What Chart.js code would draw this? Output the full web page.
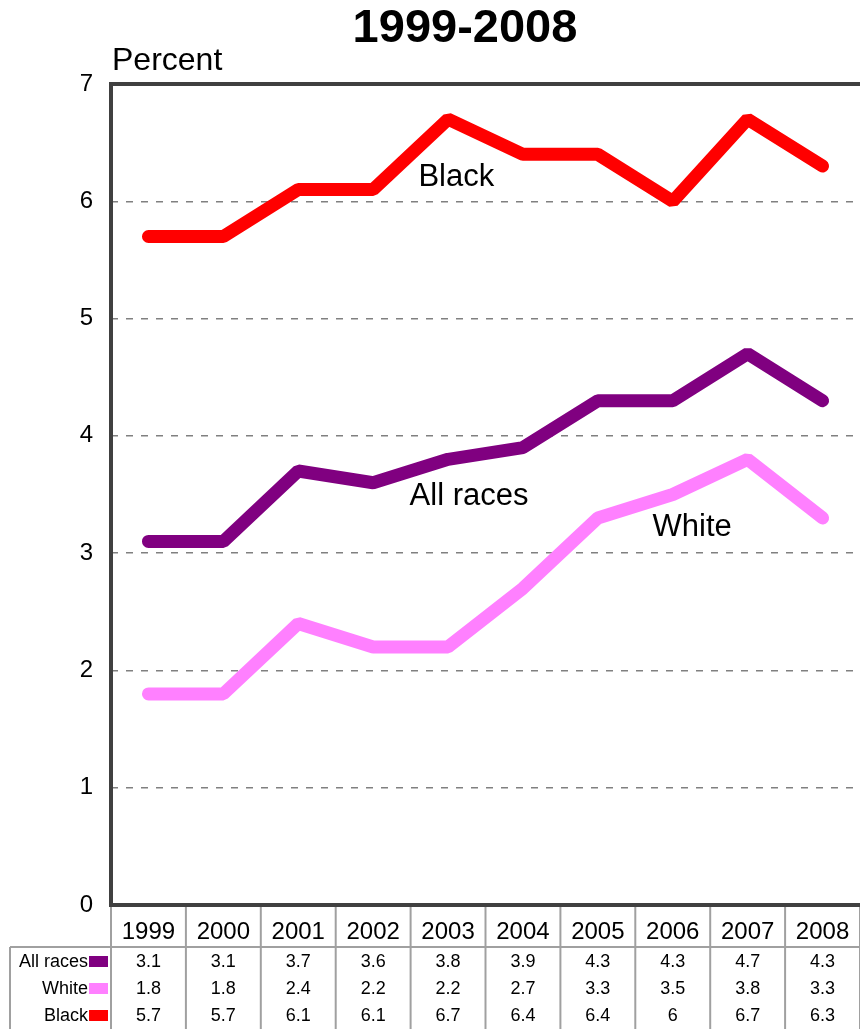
<!DOCTYPE html>
<html>
<head>
<meta charset="utf-8">
<script src="https://cdn.jsdelivr.net/npm/chart.js@4"></script>
<style>
  body { margin: 0; background: #fff; }
  canvas { display: block; }
</style>
</head>
<body>
<canvas id="myChart" width="860" height="1029"></canvas>
<script>
// Data
const years = ['1999', '2000', '2001', '2002', '2003', '2004', '2005', '2006', '2007', '2008'];
const allRaces = [3.1, 3.1, 3.7, 3.6, 3.8, 3.9, 4.3, 4.3, 4.7, 4.3];
const white = [1.8, 1.8, 2.4, 2.2, 2.2, 2.7, 3.3, 3.5, 3.8, 3.3];
const black = [5.7, 5.7, 6.1, 6.1, 6.7, 6.4, 6.4, 6.0, 6.7, 6.3];
const yTicks = [0, 1, 2, 3, 4, 5, 6, 7];

const FONT = 'Liberation Sans, Arial, sans-serif';

// series in table order
const series = [
    { name: 'All races', values: allRaces, color: '#800080' },
    { name: 'White', values: white, color: '#FF80FF' },
    { name: 'Black', values: black, color: '#FF0000' }
];

// labels placed on the chart (category index, value)
const lineLabels = [
    { text: 'Black', x: 4.11, y: 6.2 },
    { text: 'All races', x: 4.28, y: 3.48 },
    { text: 'White', x: 7.26, y: 3.22 }
];

// draws title, frame, in-chart labels and the data table
const extras = {
    id: 'extras',
    afterDraw(chart) {
        const c = chart.ctx;
        const xs = chart.scales.x;
        const ys = chart.scales.y;
        const area = chart.chartArea;
        const colW = xs.getPixelForValue(1) - xs.getPixelForValue(0);

        c.save();
        // title
        c.fillStyle = '#000';
        c.font = 'bold 47px ' + FONT;
        c.textAlign = 'center';
        c.textBaseline = 'middle';
        c.fillText('1999-2008', 465, 29);

        c.font = '32px ' + FONT;
        c.textAlign = 'left';
        c.fillText('Percent', 112, 61);

        // line labels
        c.font = '31px ' + FONT;
        c.textAlign = 'center';
        lineLabels.forEach(l => {
            c.fillText(l.text, xs.getPixelForValue(l.x), ys.getPixelForValue(l.y));
        });

        // table lines
        const rowTop = 947;
        const bottom = chart.height;
        c.strokeStyle = '#a0a0a0';
        c.lineWidth = 2;
        for (let i = 0; i <= years.length; i++) {
            const x = xs.getPixelForValue(i) - colW / 2;
            c.beginPath();
            c.moveTo(x, area.bottom);
            c.lineTo(x, bottom);
            c.stroke();
        }
        c.beginPath();
        c.moveTo(10, rowTop);
        c.lineTo(area.right, rowTop);
        c.moveTo(10, rowTop);
        c.lineTo(10, bottom);
        c.stroke();

        // table rows
        const rowY = [962, 989, 1016];
        c.font = '18px ' + FONT;
        series.forEach((s, r) => {
            c.fillStyle = '#000';
            c.textAlign = 'right';
            c.fillText(s.name, 88, rowY[r]);
            c.fillStyle = s.color;
            c.fillRect(89, rowY[r] - 6, 19, 11);
            c.fillStyle = '#000';
            c.textAlign = 'center';
            s.values.forEach((v, i) => {
                c.fillText(String(v), xs.getPixelForValue(i), rowY[r]);
            });
        });

        // plot frame (top, left, bottom)
        c.strokeStyle = '#404040';
        c.lineWidth = 4;
        c.beginPath();
        c.moveTo(chart.width + 10, area.top);
        c.lineTo(area.left, area.top);
        c.lineTo(area.left, area.bottom);
        c.lineTo(chart.width + 10, area.bottom);
        c.stroke();
        c.restore();
    }
};

const data = {
    labels: years,
    datasets: series.map(s => ({
        label: s.name,
        data: s.values,
        borderColor: s.color,
        backgroundColor: s.color,
        borderWidth: 13,
        borderCapStyle: 'round',
        borderJoinStyle: 'bevel',
        pointRadius: 0,
        tension: 0
    }))
};

const config = {
    type: 'line',
    data: data,
    options: {
        responsive: false,
        animation: false,
        layout: {
            padding: { top: 84, right: -6, bottom: 0, left: 0 }
        },
        plugins: {
            legend: { display: false },
            tooltip: { enabled: false }
        },
        scales: {
            x: {
                offset: true,
                afterFit: s => {
                    s.height = 124;
                    s.paddingLeft = 0;
                    s.paddingRight = -6;
                },
                grid: { display: false },
                border: { display: false },
                ticks: {
                    color: '#000',
                    padding: 5,
                    maxRotation: 0,
                    font: { size: 24, family: FONT }
                }
            },
            y: {
                min: 0,
                max: 7,
                afterFit: s => { s.width = 111; },
                afterBuildTicks: s => { s.ticks = yTicks.map(v => ({ value: v })); },
                grid: {
                    drawTicks: false,
                    lineWidth: 1.5,
                    color: ctx => (ctx.tick && (ctx.tick.value === 0 || ctx.tick.value === 7)) ? 'rgba(0,0,0,0)' : '#808080'
                },
                border: { display: false, dash: [7, 8] },
                ticks: {
                    color: '#000',
                    padding: 18,
                    font: { size: 24, family: FONT }
                }
            }
        }
    },
    plugins: [extras]
};

new Chart(document.getElementById('myChart').getContext('2d'), config);
</script>
</body>
</html>
